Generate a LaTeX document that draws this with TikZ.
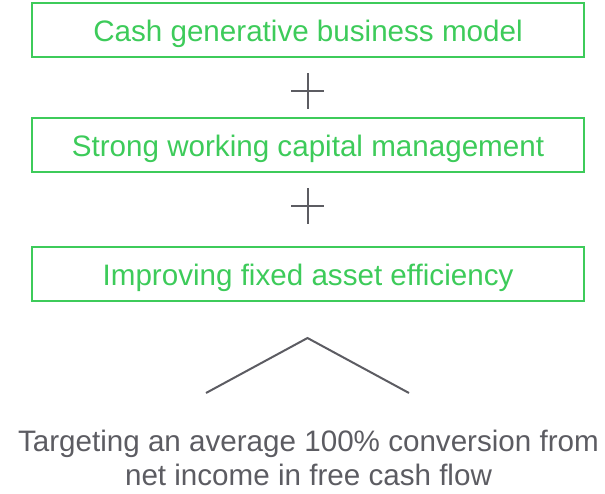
\documentclass[tikz,border=0pt]{standalone}
\usepackage{fontspec}
\setmainfont{Liberation Sans}
\definecolor{leafgreen}{HTML}{3DCB5A}
\definecolor{slate}{HTML}{5C5C62}
\begin{document}
\begin{tikzpicture}[x=1pt,y=-1pt,
  pillar/.style={draw=leafgreen, line width=2pt, minimum width=552pt, minimum height=54pt,
    inner sep=0pt, text height=23.4pt, text depth=0pt, text=leafgreen,
    font=\fontsize{29.6}{34}\selectfont},
  plusmark/.style={draw=slate, line width=2pt},
  roof/.style={draw=slate, line width=2pt, line join=miter},
  goal/.style={text=slate, align=center, font=\fontsize{29.6}{33.5}\selectfont, inner sep=0pt}]
\useasboundingbox (0,0) rectangle (605,493);

% three pillars of cash generation
\node[pillar] (cash) at (308,30) {Cash generative business model};
\node[pillar] (wc) at (308,145) {Strong working capital management};
\node[pillar] (fa) at (308,274) {Improving fixed asset efficiency};

% plus signs between the pillars
\coordinate (p1) at (307.5,90.5);
\coordinate (p2) at (307.5,205.5);
\draw[plusmark] ([xshift=-16.5pt]p1) -- ([xshift=16.5pt]p1)
                ([yshift=-18pt]p1) -- ([yshift=18pt]p1);
\draw[plusmark] ([xshift=-16.5pt]p2) -- ([xshift=16.5pt]p2)
                ([yshift=-18pt]p2) -- ([yshift=18pt]p2);

% roof pointing up to the pillars
\coordinate (rl) at (206,393);
\coordinate (rt) at (307.5,338);
\coordinate (rr) at (409,393);
\draw[roof] (rl) -- (rt) -- (rr);

% target statement (base anchor sits on the last line)
\node[goal, anchor=base] (target) at (308.5,485)
  {Targeting an average 100\% conversion from\\net income in free cash flow};
\end{tikzpicture}
\end{document}
